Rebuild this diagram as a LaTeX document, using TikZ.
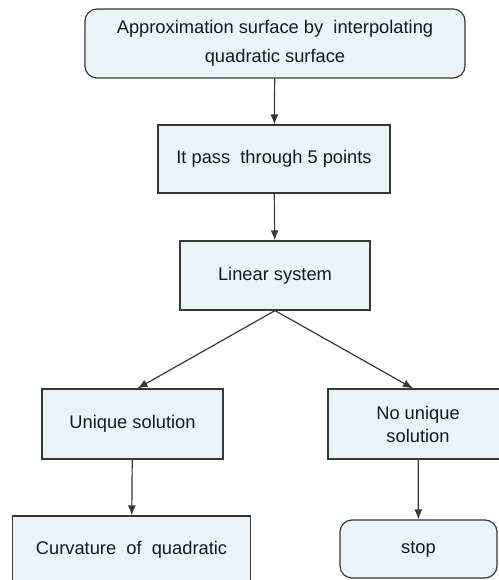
\documentclass[tikz,border=0pt]{standalone}
\usepackage{fontspec}
\setmainfont{Liberation Sans}
\usetikzlibrary{arrows.meta}
\definecolor{boxfill}{RGB}{232,244,245}
\definecolor{boxline}{RGB}{55,55,55}
\tikzset{
  stepbox/.style={draw=boxline, fill=boxfill, line width=1.2pt, align=center,
    inner sep=0pt, font=\fontsize{18.3}{23}\selectfont, text=black!90},
  roundbox/.style={stepbox, rounded corners=12pt},
}
\begin{document}
\begin{tikzpicture}[x=1pt,y=-1pt,>={Latex[length=10pt,width=8pt]}]
\useasboundingbox (0,0) rectangle (498,580);
{\centering
\node[roundbox, minimum width=380pt, minimum height=69pt] (approx) at (275, 43.5)
  {Approximation surface by\ \ interpolating\\[6pt] quadratic surface};
\node[stepbox, minimum width=232pt, minimum height=68pt] (pass) at (274, 159)
  {It pass\ \ through 5 points};
\node[stepbox, minimum width=190pt, minimum height=69pt] (linear) at (275, 275.5)
  {Linear system};
\node[stepbox, minimum width=181pt, minimum height=70pt] (unique) at (132.5, 424)
  {Unique solution};
\node[stepbox, minimum width=180pt, minimum height=70pt] (nounique) at (418, 424)
  {No unique\\ solution};
\node[stepbox, minimum width=238pt, minimum height=68pt] (curv) at (131.5, 550)
  {Curvature\ \ of\ \ quadratic};
\node[roundbox, minimum width=157pt, minimum height=58pt] (stop) at (418.5, 549)
  {stop};

\path[->, color=boxline, line width=1.2pt] (approx) edge node {} (pass);
\path[->, color=boxline, line width=1.2pt] (pass) edge node {} (linear);
\path[->, color=boxline, line width=1.2pt] (linear.south) edge node {} ([xshift=5pt]unique.north);
\path[->, color=boxline, line width=1.2pt] (linear.south) edge node {} ([xshift=-5pt]nounique.north);
\path[->, color=boxline, line width=1.2pt] (unique) edge node {} (curv);
\path[->, color=boxline, line width=1.2pt] (nounique) edge node {} (stop);
}
\end{tikzpicture}
\end{document}
